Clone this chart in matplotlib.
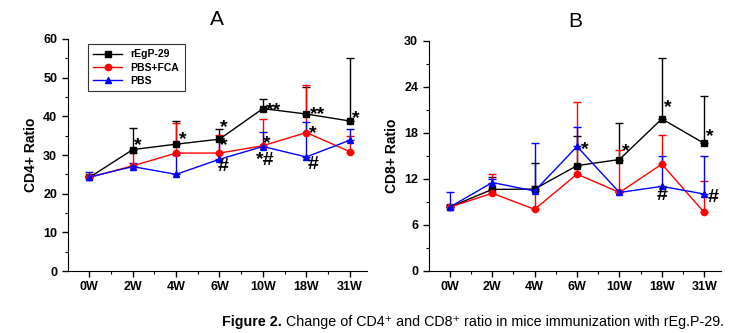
import numpy as np
import matplotlib
matplotlib.use('Agg')
import matplotlib.pyplot as plt
from matplotlib.ticker import MultipleLocator
from matplotlib.lines import Line2D

plt.rcParams['font.family'] = ['Liberation Sans', 'DejaVu Sans']

weeks = ['0W', '2W', '4W', '6W', '10W', '18W', '31W']

# panel A - CD4+ ratio
cd4_regp = [24.2, 31.4, 32.8, 34.1, 42.0, 40.6, 38.8]
cd4_regp_err = [0.5, 5.5, 5.9, 2.6, 2.6, 6.9, 16.2]
cd4_fca = [24.2, 27.2, 30.5, 30.5, 32.4, 35.8, 30.9]
cd4_fca_err = [0.5, 3.3, 7.8, 4.8, 6.9, 12.4, 4.0]
cd4_pbs = [24.3, 27.0, 25.0, 28.9, 32.2, 29.5, 33.8]
cd4_pbs_err = [1.4, 1.0, 5.0, 5.1, 3.7, 9.1, 2.9]

# panel B - CD8+ ratio
cd8_regp = [8.3, 10.6, 10.65, 13.7, 14.5, 19.8, 16.6]
cd8_regp_err = [0.3, 1.6, 3.35, 3.9, 4.8, 8.0, 6.2]
cd8_fca = [8.3, 10.1, 8.0, 12.6, 10.2, 13.9, 7.6]
cd8_fca_err = [0.3, 2.5, 3.0, 9.4, 5.5, 3.8, 4.1]
cd8_pbs = [8.3, 11.5, 10.4, 16.2, 10.2, 11.0, 10.0]
cd8_pbs_err = [2.0, 0.5, 6.3, 2.5, 0.2, 4.0, 5.0]

groups = ['rEgP-29', 'PBS+FCA', 'PBS']
colors = ['black', 'red', 'blue']
markers = ['s', 'o', '^']

x = np.arange(len(weeks))

fig = plt.figure(figsize=(7.52, 3.33), dpi=100)
axA = fig.add_axes([0.090, 0.186, 0.398, 0.697])
axB = fig.add_axes([0.570, 0.187, 0.389, 0.691])


def draw(ax, series):
    for (vals, err), color, marker in zip(series, colors, markers):
        ax.errorbar(x, vals, yerr=[np.zeros(len(err)), err], fmt='none',
                    ecolor=color, elinewidth=1, capsize=3, capthick=1, zorder=3)
        ax.plot(x, vals, color=color, marker=marker, markersize=4.5,
                linewidth=1, zorder=4)
    ax.spines['top'].set_visible(False)
    ax.spines['right'].set_visible(False)
    ax.set_xticks(x)
    ax.set_xticklabels(weeks)
    ax.set_xticks(x[:-1] + 0.5, minor=True)
    ax.set_xlim(-0.5, 6.4)
    ax.tick_params(direction='out', length=4, width=1, labelsize=9)
    ax.tick_params(which='minor', direction='out', length=2, width=0.8)
    for lab in ax.get_xticklabels() + ax.get_yticklabels():
        lab.set_fontweight('bold')


draw(axA, [(cd4_regp, cd4_regp_err), (cd4_fca, cd4_fca_err),
           (cd4_pbs, cd4_pbs_err)])
axA.set_ylim(0, 60)
axA.yaxis.set_major_locator(MultipleLocator(10))
axA.yaxis.set_minor_locator(MultipleLocator(5))
axA.set_ylabel('CD4+ Ratio', fontsize=10, fontweight='bold')
axA.set_title('A', fontsize=15, pad=10)
handles = [Line2D([], [], color=c, marker=m, markersize=4.5, linewidth=1)
           for c, m in zip(colors, markers)]
leg = axA.legend(handles, groups, loc='upper left', bbox_to_anchor=(0.05, 1.0),
                 prop={'weight': 'bold', 'size': 7.5}, frameon=True,
                 fancybox=False, edgecolor='black', handlelength=2.8,
                 borderpad=0.5, labelspacing=0.3)
leg.get_frame().set_linewidth(0.8)

draw(axB, [(cd8_regp, cd8_regp_err), (cd8_fca, cd8_fca_err),
           (cd8_pbs, cd8_pbs_err)])
axB.set_ylim(0, 30)
axB.yaxis.set_major_locator(MultipleLocator(6))
axB.yaxis.set_minor_locator(MultipleLocator(3))
axB.set_ylabel('CD8+ Ratio', fontsize=10, fontweight='bold')
axB.set_title('B', fontsize=15, pad=10)

# significance marks
star_kw = dict(fontsize=14, fontweight='bold', ha='center', va='center', zorder=5)
marksA = [(1.12, 32.5, '*'), (2.15, 34.0, '*'), (3.1, 37.0, '*'),
          (3.1, 32.5, '*'), (3.08, 27.0, '#'), (4.25, 41.5, '**'),
          (4.08, 33.0, '*'), (4.05, 28.5, '*#'), (5.27, 40.5, '**'),
          (5.15, 35.5, '*'), (5.15, 27.5, '#'), (6.15, 39.5, '*')]
for xx, yy, t in marksA:
    axA.text(xx, yy, t, **star_kw)

marksB = [(3.18, 15.8, '*'), (4.15, 15.5, '*'), (5.13, 21.3, '*'),
          (5.0, 9.8, '#'), (6.13, 17.5, '*'), (6.2, 9.6, '#')]
for xx, yy, t in marksB:
    axB.text(xx, yy, t, **star_kw)

# caption
cap_y = 0.033
t1 = fig.text(222 / 752, cap_y, 'Figure 2.', fontsize=10.3, fontweight='bold',
              va='center')
r = fig.canvas.get_renderer()
bb = t1.get_window_extent(renderer=r)
fig.text(bb.x1 / fig.bbox.width + 0.005, cap_y,
         'Change of CD4\u207a and CD8\u207a ratio in mice immunization with rEg.P-29.',
         fontsize=10.3, va='center')

fig.savefig('out.png', dpi=100)
